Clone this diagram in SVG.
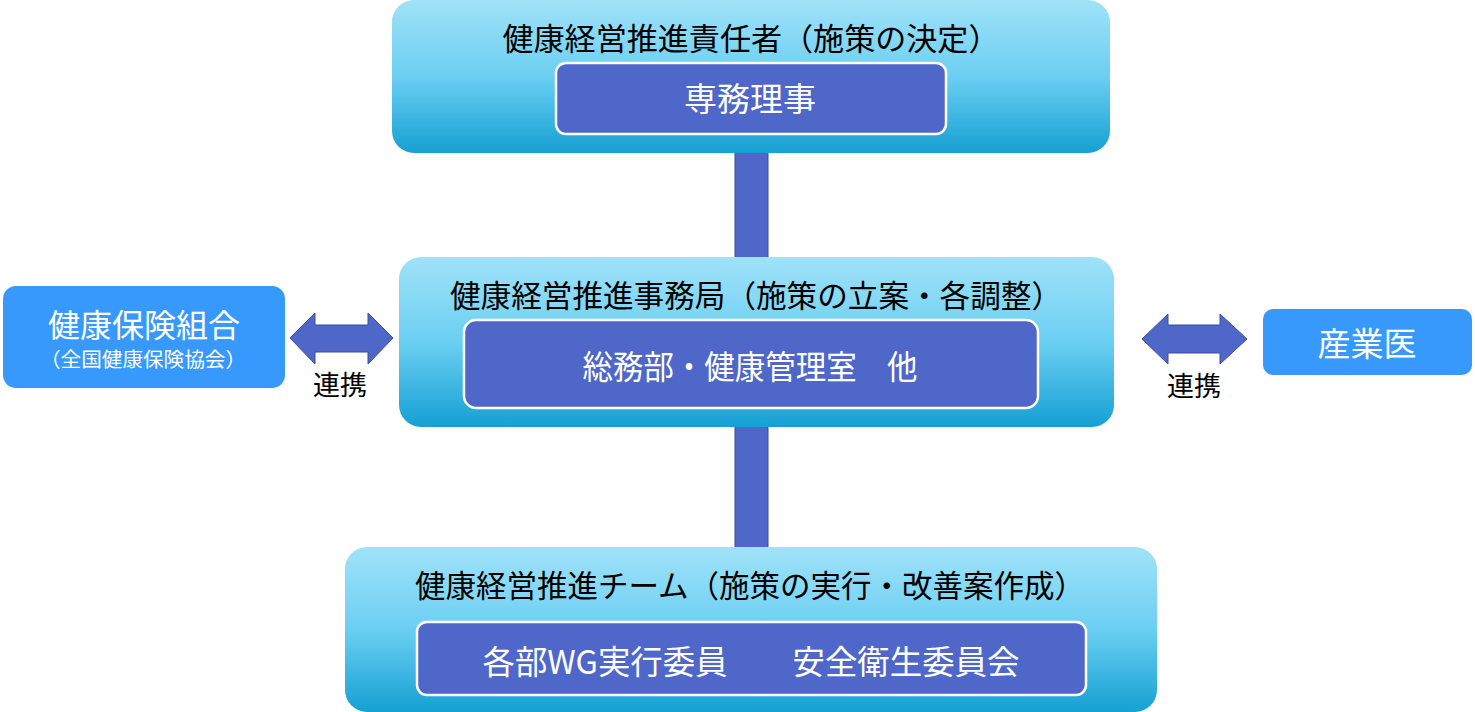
<svg xmlns="http://www.w3.org/2000/svg" width="1475" height="712" viewBox="0 0 1475 712">
<style>
text{font-family:"Noto Sans CJK JP","Noto Sans",sans-serif;}
.title{font-size:31px;fill:#000;text-anchor:middle;}
.inner{font-size:33px;fill:#fff;text-anchor:middle;}
.ibox{fill:#4f67c8;stroke:#fff;stroke-width:2.5;}
.side{fill:#3899fc;}
.bar{fill:#4f67c8;stroke:#3a4f9c;stroke-width:1;}
.lbl{font-size:27px;fill:#000;text-anchor:middle;}
</style>
<defs>
<linearGradient id="g" x1="0" y1="0" x2="0" y2="1">
<stop offset="0" stop-color="#a0e2f8"/>
<stop offset="0.5" stop-color="#6bcff2"/>
<stop offset="1" stop-color="#15a0d3"/>
</linearGradient>
</defs>
<g id="connectors">
<rect class="bar" x="735" y="150" width="33" height="110"/>
<rect class="bar" x="735" y="424" width="33" height="126"/>
<polygon class="bar" points="290,338 315,313 315,325 368,325 368,313 393,338 368,364 368,352 315,352 315,364"/>
<text class="lbl" x="340" y="395">連携</text>
<polygon class="bar" points="1142,339 1168,314 1168,325 1220,325 1220,314 1247,339 1220,364 1220,353 1168,353 1168,364"/>
<text class="lbl" x="1194" y="396">連携</text>
</g>
<g id="top">
<rect x="392" y="0" width="718" height="153" rx="22" fill="url(#g)"/>
<text class="title" x="751" y="50" textLength="497" lengthAdjust="spacingAndGlyphs">健康経営推進責任者（施策の決定）</text>
<rect class="ibox" x="556" y="63" width="390" height="71" rx="10"/>
<text class="inner" x="750" y="111">専務理事</text>
</g>
<g id="middle">
<rect x="399" y="257" width="715" height="170" rx="22" fill="url(#g)"/>
<text class="title" x="756" y="307" textLength="612" lengthAdjust="spacingAndGlyphs">健康経営推進事務局（施策の立案・各調整）</text>
<rect class="ibox" x="464" y="320" width="574" height="88" rx="12"/>
<text class="inner" x="750" y="379" textLength="335" lengthAdjust="spacingAndGlyphs">総務部・健康管理室　他</text>
</g>
<g id="bottom">
<rect x="345" y="547" width="812" height="165" rx="22" fill="url(#g)"/>
<text class="title" x="750" y="597" textLength="670" lengthAdjust="spacingAndGlyphs">健康経営推進チーム（施策の実行・改善案作成）</text>
<rect class="ibox" x="417" y="622" width="669" height="73" rx="10"/>
<text class="inner" x="751" y="674" textLength="537" lengthAdjust="spacingAndGlyphs">各部WG実行委員　　安全衛生委員会</text>
</g>
<g id="kenpo">
<rect class="side" x="3" y="286" width="282" height="102" rx="13"/>
<text x="144" y="337" style="font-size:32px;fill:#fff;text-anchor:middle;">健康保険組合</text>
<text x="143" y="367" style="font-size:20px;fill:#fff;text-anchor:middle;" textLength="206" lengthAdjust="spacingAndGlyphs">（全国健康保険協会）</text>
</g>
<g id="sangyoi">
<rect class="side" x="1263" y="309" width="209" height="66" rx="10"/>
<text class="inner" x="1367" y="356">産業医</text>
</g>
</svg>
